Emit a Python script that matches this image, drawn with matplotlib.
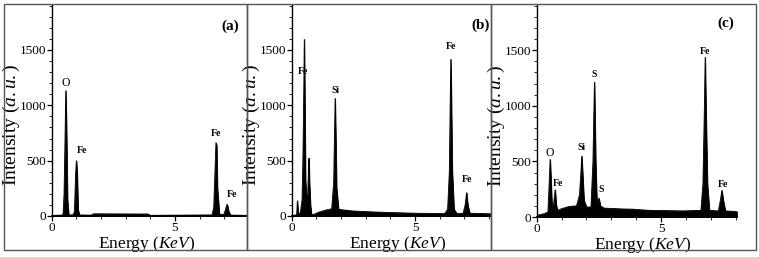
import matplotlib
matplotlib.use('Agg')
import matplotlib.pyplot as plt
from matplotlib.patches import Rectangle
from matplotlib.ticker import MultipleLocator, FixedLocator

plt.rcParams['font.family'] = ['Liberation Serif', 'DejaVu Serif']
plt.rcParams['mathtext.fontset'] = 'custom'
plt.rcParams['mathtext.rm'] = 'Liberation Serif'
plt.rcParams['mathtext.it'] = 'Liberation Serif:italic'

# ---------------- data ----------------
energy_a = [0.00, 0.40, 0.46, 0.50, 0.54, 0.57, 0.60, 0.64, 0.69, 0.86, 0.92, 0.97, 1.00,
            1.03, 1.07, 1.12, 1.60, 1.70, 3.90, 4.00, 6.50, 6.57, 6.62, 6.66, 6.69, 6.72,
            6.80, 6.98, 7.05, 7.10, 7.13, 7.18, 7.26, 7.92]
counts_a = [5, 8, 15, 200, 700, 1132, 800, 150, 10, 10, 40, 380, 500,
            400, 60, 10, 8, 20, 18, 6, 10, 80, 400, 662, 640, 250,
            15, 15, 60, 105, 95, 40, 8, 6]

energy_b = [0.00, 0.20, 0.23, 0.26, 0.35, 0.42, 0.46, 0.49, 0.51, 0.53, 0.56, 0.60, 0.65,
            0.68, 0.70, 0.72, 0.76, 0.80, 0.90, 1.10, 1.40, 1.62, 1.70, 1.74, 1.76, 1.78,
            1.82, 1.90, 2.50, 3.50, 5.00, 6.20, 6.32, 6.39, 6.43, 6.45, 6.47, 6.51, 6.58,
            6.70, 6.95, 7.03, 7.09, 7.14, 7.22, 8.08]
counts_b = [5, 10, 138, 20, 30, 150, 600, 1150, 1596, 1100, 320, 170, 200,
            430, 521, 300, 100, 15, 15, 35, 55, 65, 300, 800, 1063, 800,
            250, 60, 45, 35, 25, 22, 60, 400, 1100, 1415, 1100, 400, 60,
            22, 25, 100, 211, 100, 25, 20]

energy_c = [0.00, 0.30, 0.45, 0.50, 0.54, 0.58, 0.62, 0.68, 0.74, 0.79, 0.85, 1.00, 1.30,
            1.60, 1.72, 1.78, 1.81, 1.84, 1.90, 2.00, 2.18, 2.26, 2.32, 2.37, 2.42, 2.50,
            2.56, 2.70, 3.50, 3.90, 4.50, 5.90, 6.60, 6.68, 6.74, 6.77, 6.80, 6.86, 6.94,
            7.30, 7.38, 7.44, 7.50, 7.58, 8.05]
counts_c = [15, 30, 45, 300, 518, 300, 60, 120, 245, 100, 60, 75, 95,
            100, 200, 420, 547, 420, 150, 90, 90, 500, 1212, 500, 120, 170,
            100, 80, 72, 70, 60, 55, 60, 300, 1000, 1436, 1000, 300, 60,
            55, 150, 239, 150, 55, 48]

labels_a = ["O", "Fe", "Fe", "Fe"]
label_x_a = [0.55, 1.21, 6.66, 7.30]
label_y_a = [1204, 596, 747, 190]

labels_b = ["Fe", "Si", "Fe", "Fe"]
label_x_b = [0.47, 1.76, 6.45, 7.12]
label_y_b = [1303, 1132, 1530, 331]

labels_c = ["O", "Fe", "Si", "S", "S", "Fe", "Fe"]
label_x_c = [0.54, 0.87, 1.81, 2.32, 2.57, 6.77, 7.48]
label_y_c = [578, 305, 623, 1278, 245, 1490, 290]

panel_tags = ["(a)", "(b)", "(c)"]
y_ticks = [0, 500, 1000, 1500]
x_ticks = [0, 5]

# ---------------- figure ----------------
W, H = 759, 257
fig = plt.figure(figsize=(W / 100, H / 100), dpi=100)
fig.patch.set_facecolor('white')

def fx(px):
    return px / W

def fy(py):
    return 1 - py / H

# panel frames
for x0, x1 in [(4, 247), (247, 491), (491, 756)]:
    fig.add_artist(Rectangle((fx(x0), fy(250)), fx(x1 - x0), (246) / H,
                             transform=fig.transFigure, fill=False,
                             edgecolor='#555555', linewidth=1.0))

panels = [
    dict(E=energy_a, C=counts_a, L=labels_a, LX=label_x_a, LY=label_y_a,
         left=51.7, right=247, zero=216, xmax=7.92, tagx=7.23, tagy=1716,
         ylx=-0.152, xlx=0.488),
    dict(E=energy_b, C=counts_b, L=labels_b, LX=label_x_b, LY=label_y_b,
         left=291.7, right=491, zero=216, xmax=8.08, tagx=7.64, tagy=1725,
         ylx=-0.149, xlx=0.53),
    dict(E=energy_c, C=counts_c, L=labels_c, LX=label_x_c, LY=label_y_c,
         left=536.7, right=737, zero=217, xmax=8.05, tagx=7.60, tagy=1741,
         ylx=-0.148, xlx=0.53),
]

for i, p in enumerate(panels):
    ax = fig.add_axes([fx(p['left']), fy(p['zero']), fx(p['right'] - p['left']),
                       (p['zero'] - 5) / H])
    ax.fill_between(p['E'], p['C'], 0, color='black', linewidth=0.6)
    ax.plot(p['E'], p['C'], color='black', linewidth=0.6)
    ax.set_xlim(0, p['xmax'])
    ax.set_ylim(0, 1906)
    for s in ['top', 'right']:
        ax.spines[s].set_visible(False)
    ax.spines['left'].set_linewidth(1.0)
    ax.spines['bottom'].set_linewidth(1.3)
    ax.set_facecolor('none')
    ax.yaxis.set_major_locator(FixedLocator(y_ticks))
    ax.yaxis.set_minor_locator(MultipleLocator(100))
    ax.xaxis.set_major_locator(FixedLocator(x_ticks))
    ax.xaxis.set_minor_locator(MultipleLocator(1))
    ax.tick_params(axis='both', which='major', direction='out', length=3.5,
                   width=0.9, labelsize=9.5, pad=0.5)
    ax.tick_params(axis='both', which='minor', direction='out', length=2,
                   width=0.6)
    ax.set_ylabel(r'Intensity $(a.u.)$', fontsize=14)
    ax.yaxis.set_label_coords(p['ylx'], 0.43)
    ax.set_xlabel(r'Energy $(KeV)$', fontsize=12.5)
    ax.xaxis.set_label_coords(p['xlx'], -0.085)
    for t, x, y in zip(p['L'], p['LX'], p['LY']):
        if t == "O":
            ax.text(x, y, t, ha='center', va='center', fontsize=8.5)
        else:
            ax.text(x, y, t, ha='center', va='center', fontsize=7,
                    fontweight='bold')
    ax.text(p['tagx'], p['tagy'], panel_tags[i], ha='center', va='center',
            fontsize=11, fontweight='bold')

fig.savefig('out.png', dpi=100, facecolor='white')
